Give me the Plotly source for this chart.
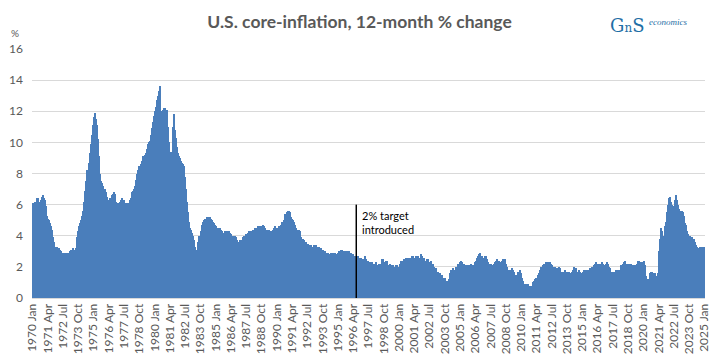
import plotly.graph_objects as go

# ---------------- data ----------------
month_names = ["Jan", "Feb", "Mar", "Apr", "May", "Jun",
               "Jul", "Aug", "Sep", "Oct", "Nov", "Dec"]
first_year = 1970
last_year = 2025

# U.S. core CPI, 12-month % change, monthly (Jan..Dec per row)
core_1970s = [
    6.1, 6.0, 6.2, 6.1, 6.4, 6.4, 6.2, 6.2, 6.3, 6.5, 6.6, 6.4,   # 1970
    6.3, 5.9, 5.3, 5.1, 5.0, 4.8, 4.6, 4.4, 3.9, 3.6, 3.2, 3.3,   # 1971
    3.3, 3.2, 3.2, 3.1, 3.0, 2.9, 2.8, 2.9, 2.8, 2.9, 2.8, 2.9,   # 1972
    2.5, 3.0, 3.1, 3.1, 3.2, 3.1, 3.1, 3.2, 3.9, 4.3, 4.6, 4.8,   # 1973
    5.0, 5.3, 5.6, 6.2, 6.9, 7.5, 8.2, 8.7, 9.3, 9.9, 10.5, 11.1, # 1974
    11.6, 11.9, 11.5, 11.1, 10.2, 9.1, 8.0, 7.5, 7.4, 7.2, 7.0, 7.0,  # 1975
    6.8, 6.5, 6.3, 6.2, 6.4, 6.3, 6.6, 6.7, 6.8, 6.7, 6.2, 6.1,   # 1976
    6.1, 6.0, 6.2, 6.3, 6.4, 6.2, 6.3, 6.1, 6.0, 6.1, 6.0, 6.1,   # 1977
    6.3, 6.4, 6.8, 6.9, 7.0, 7.2, 7.6, 8.0, 8.2, 8.5, 8.5, 8.6,   # 1978
    8.8, 9.1, 9.2, 9.3, 9.6, 9.9, 10.0, 10.1, 10.5, 10.9, 11.3, 11.7,  # 1979
]
core_1980s = [
    12.0, 12.3, 12.7, 13.0, 13.3, 13.6, 12.0, 11.9, 12.1, 12.2, 12.2, 12.1,  # 1980
    12.1, 11.0, 10.0, 9.4, 9.3, 9.4, 11.0, 11.8, 10.8, 10.3, 9.7, 9.3,      # 1981
    9.1, 9.0, 8.8, 8.7, 8.6, 8.5, 7.8, 7.0, 6.2, 5.5, 4.9, 4.5,             # 1982
    4.4, 4.2, 4.0, 3.7, 3.3, 3.1, 3.1, 3.6, 4.0, 4.3, 4.7, 4.9,             # 1983
    5.0, 5.1, 5.1, 5.2, 5.2, 5.2, 5.2, 5.1, 5.0, 4.9, 4.8, 4.7,             # 1984
    4.6, 4.5, 4.5, 4.4, 4.5, 4.4, 4.3, 4.2, 4.2, 4.3, 4.2, 4.3,             # 1985
    4.3, 4.3, 4.2, 4.1, 4.0, 4.0, 4.0, 4.0, 3.9, 3.7, 3.6, 3.6,             # 1986
    3.7, 3.6, 3.7, 3.9, 4.0, 4.0, 4.1, 4.1, 4.2, 4.3, 4.3, 4.3,             # 1987
    4.3, 4.4, 4.4, 4.5, 4.5, 4.6, 4.6, 4.6, 4.6, 4.6, 4.7, 4.6,             # 1988
    4.5, 4.4, 4.4, 4.4, 4.4, 4.3, 4.3, 4.3, 4.4, 4.5, 4.6, 4.5,             # 1989
]
core_1990s = [
    4.4, 4.5, 4.6, 4.5, 4.7, 4.9, 4.9, 5.0, 5.4, 5.4, 5.5, 5.6,   # 1990
    5.6, 5.5, 5.2, 5.1, 5.0, 4.9, 4.7, 4.5, 4.4, 4.4, 4.4, 4.3,   # 1991
    3.9, 3.8, 3.8, 3.7, 3.6, 3.6, 3.5, 3.5, 3.4, 3.4, 3.4, 3.3,   # 1992
    3.4, 3.4, 3.4, 3.3, 3.3, 3.3, 3.2, 3.2, 3.1, 3.1, 3.0, 3.0,   # 1993
    2.9, 2.8, 2.9, 2.8, 2.8, 2.9, 2.9, 2.9, 2.9, 2.9, 2.8, 2.7,   # 1994
    2.9, 3.0, 3.0, 3.1, 3.1, 3.0, 3.0, 3.0, 3.0, 3.0, 3.0, 3.0,   # 1995
    2.9, 2.9, 2.8, 2.8, 2.7, 2.7, 2.7, 2.6, 2.7, 2.6, 2.6, 2.6,   # 1996
    2.5, 2.5, 2.5, 2.7, 2.5, 2.4, 2.4, 2.3, 2.2, 2.3, 2.2, 2.2,   # 1997
    2.2, 2.3, 2.1, 2.1, 2.2, 2.2, 2.2, 2.5, 2.5, 2.3, 2.3, 2.4,   # 1998
    2.4, 2.1, 2.1, 2.2, 2.0, 2.1, 2.1, 1.9, 2.0, 2.1, 2.1, 1.9,   # 1999
]
core_2000s = [
    2.0, 2.2, 2.4, 2.3, 2.4, 2.5, 2.5, 2.6, 2.6, 2.5, 2.6, 2.6,   # 2000
    2.6, 2.7, 2.7, 2.6, 2.5, 2.7, 2.7, 2.7, 2.6, 2.6, 2.8, 2.7,   # 2001
    2.6, 2.6, 2.4, 2.5, 2.5, 2.3, 2.2, 2.4, 2.2, 2.2, 2.0, 1.9,   # 2002
    1.9, 1.7, 1.7, 1.5, 1.6, 1.5, 1.5, 1.3, 1.2, 1.3, 1.1, 1.1,   # 2003
    1.1, 1.2, 1.6, 1.8, 1.7, 1.9, 1.8, 1.7, 2.0, 2.0, 2.2, 2.2,   # 2004
    2.3, 2.4, 2.3, 2.2, 2.2, 2.0, 2.1, 2.1, 2.0, 2.1, 2.1, 2.2,   # 2005
    2.1, 2.1, 2.1, 2.3, 2.4, 2.6, 2.7, 2.8, 2.9, 2.7, 2.6, 2.6,   # 2006
    2.7, 2.7, 2.5, 2.3, 2.2, 2.2, 2.2, 2.1, 2.1, 2.2, 2.3, 2.4,   # 2007
    2.5, 2.3, 2.4, 2.3, 2.3, 2.4, 2.5, 2.5, 2.5, 2.2, 2.0, 1.8,   # 2008
    1.7, 1.8, 1.8, 1.9, 1.8, 1.7, 1.5, 1.4, 1.5, 1.7, 1.7, 1.8,   # 2009
]
core_2010s = [
    1.6, 1.3, 1.1, 0.9, 0.9, 0.9, 0.9, 0.9, 0.8, 0.6, 0.8, 0.8,   # 2010
    1.0, 1.1, 1.2, 1.3, 1.5, 1.6, 1.8, 2.0, 2.0, 2.1, 2.2, 2.2,   # 2011
    2.3, 2.2, 2.3, 2.3, 2.3, 2.2, 2.1, 1.9, 2.0, 2.0, 1.9, 1.9,   # 2012
    1.9, 2.0, 1.9, 1.7, 1.7, 1.6, 1.7, 1.8, 1.7, 1.7, 1.7, 1.7,   # 2013
    1.6, 1.6, 1.7, 1.8, 2.0, 1.9, 1.9, 1.7, 1.7, 1.8, 1.7, 1.6,   # 2014
    1.6, 1.7, 1.8, 1.8, 1.7, 1.8, 1.8, 1.8, 1.9, 1.9, 2.0, 2.1,   # 2015
    2.2, 2.3, 2.2, 2.1, 2.2, 2.2, 2.2, 2.3, 2.2, 2.1, 2.1, 2.2,   # 2016
    2.3, 2.2, 2.0, 1.9, 1.7, 1.7, 1.7, 1.7, 1.7, 1.8, 1.7, 1.8,   # 2017
    1.8, 1.8, 2.1, 2.1, 2.2, 2.3, 2.4, 2.2, 2.2, 2.1, 2.2, 2.2,   # 2018
    2.2, 2.1, 2.0, 2.1, 2.0, 2.1, 2.2, 2.4, 2.4, 2.3, 2.3, 2.3,   # 2019
]
core_2020s = [
    2.3, 2.4, 2.1, 1.4, 1.2, 1.2, 1.6, 1.7, 1.7, 1.6, 1.6, 1.6,   # 2020
    1.4, 1.3, 1.6, 3.0, 3.8, 4.5, 4.3, 4.0, 4.0, 4.6, 4.9, 5.5,   # 2021
    6.0, 6.4, 6.5, 6.2, 6.0, 5.9, 5.9, 6.3, 6.6, 6.3, 6.0, 5.7,   # 2022
    5.6, 5.5, 5.6, 5.5, 5.3, 4.8, 4.7, 4.3, 4.1, 4.0, 4.0, 3.9,   # 2023
    3.9, 3.8, 3.8, 3.6, 3.4, 3.3, 3.2, 3.2, 3.3, 3.3, 3.3, 3.2,   # 2024
    3.3,                                                          # 2025
]

y_ticks = [0, 2, 4, 6, 8, 10, 12, 14, 16]
tick_every = 15                       # one x label every 15 months
target_month = "1996 Jul"             # "2% target introduced" marker
target_note = "2% target<br>introduced"

# ---------------- figure ----------------
values = core_1970s + core_1980s + core_1990s + core_2000s + core_2010s + core_2020s
labels = [f"{y} {m}" for y in range(first_year, last_year + 1) for m in month_names][:len(values)]
tick_labels = labels[::tick_every]

W, H = 719, 361
L, R, T, B = 32, 14, 49, 63
PW, PH = W - L - R, H - T - B


def px_x(px):  # figure pixel -> plot-area paper fraction
    return (px - L) / PW


def px_y(py):
    return (H - B - py) / PH


grey = "#595959"
font_family = "Lato, 'Open Sans', sans-serif"

fig = go.Figure(
    go.Bar(
        x=labels,
        y=values,
        marker=dict(color="#4a7ebb", line=dict(width=0)),
        hovertemplate="%{x}: %{y}%<extra></extra>",
    )
)

fig.update_layout(
    width=W,
    height=H,
    margin=dict(l=L, r=R, t=T, b=B, autoexpand=False),
    paper_bgcolor="white",
    plot_bgcolor="white",
    bargap=0,
    showlegend=False,
    font=dict(family=font_family, color=grey, size=12),
    title=dict(
        text="<b>U.S. core-inflation, 12-month % change</b>",
        x=0.5, xanchor="center",
        y=1 - 22 / H, yanchor="middle",
        font=dict(family=font_family, size=17.5, color=grey),
    ),
    xaxis=dict(
        type="category",
        automargin=False,
        tickmode="array",
        tickvals=tick_labels,
        ticktext=tick_labels,
        tickangle=-90,
        tickfont=dict(size=12, color=grey),
        showgrid=False,
        showline=True,
        linecolor="#d9d9d9",
        linewidth=1,
        ticks="",
        range=[-0.5, len(values) - 0.5],
    ),
    yaxis=dict(
        automargin=False,
        range=[0, 16],
        tickmode="array",
        tickvals=y_ticks,
        tickfont=dict(size=12, color=grey),
        showgrid=True,
        gridcolor="#d9d9d9",
        gridwidth=1,
        zeroline=False,
        ticks="",
        ticklabelstandoff=8,
    ),
    shapes=[
        dict(
            type="line", xref="x", yref="y",
            x0=target_month, x1=target_month, y0=0, y1=6,
            line=dict(color="black", width=1.5),
        )
    ],
    annotations=[
        dict(
            x=target_month, y=5.85, xref="x", yref="y",
            text=target_note, showarrow=False,
            xanchor="left", yanchor="top", align="left", xshift=4,
            font=dict(family=font_family, size=11, color="black"),
        ),
        dict(
            x=px_x(15), y=px_y(33), xref="paper", yref="paper",
            text="%", showarrow=False, xanchor="center", yanchor="middle",
            font=dict(family=font_family, size=10, color=grey),
        ),
        dict(
            x=px_x(646), y=px_y(26), xref="paper", yref="paper",
            text="G<span style='font-size:12px'>n</span>S", showarrow=False,
            xanchor="right", yanchor="middle",
            font=dict(family="'DejaVu Serif', serif", size=18, color="#1f6fa6"),
        ),
        dict(
            x=px_x(647), y=px_y(22), xref="paper", yref="paper",
            text="<i>economics</i>", showarrow=False,
            xanchor="left", yanchor="middle",
            font=dict(family="'Liberation Serif', serif", size=9, color="#1f6fa6"),
        ),
    ],
)

fig.write_html(
    "out.html",
    config={"displayModeBar": False},
    post_script="document.body.style.margin='0';document.body.style.padding='0';"
                "document.body.style.overflow='hidden';",
)
